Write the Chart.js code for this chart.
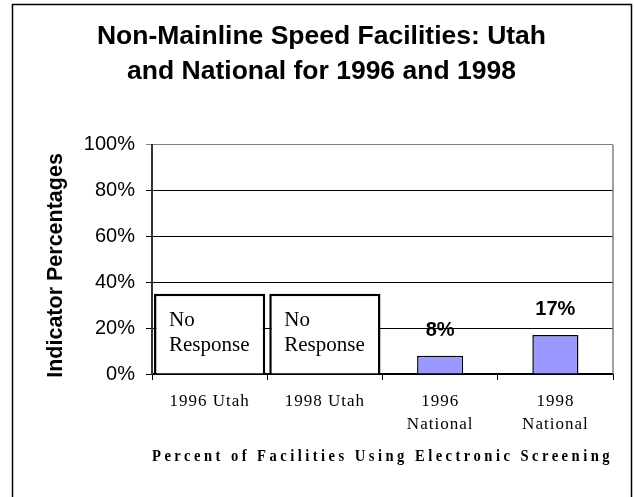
<!DOCTYPE html>
<html><head><meta charset="utf-8">
<script src="https://cdn.jsdelivr.net/npm/chart.js@4"></script>
<style>html,body{margin:0;padding:0;background:#fff}#wrap{width:634px;height:497px}</style>
</head><body><div id="wrap"><canvas id="c" width="634" height="497"></canvas></div>
<script>
const titleLines = ["Non-Mainline Speed Facilities: Utah", "and National for 1996 and 1998"];
const categories = [["1996 Utah"], ["1998 Utah"], ["1996", "National"], ["1998", "National"]];
const noResponseBoxes = [35, 35, null, null];
const nationalValues = [null, null, 8, 17];
const yTicks = [0, 20, 40, 60, 80, 100];
const noResponseText = ["No", "Response"];
const yAxisTitle = "Indicator Percentages  ";
const xAxisTitle = "Percent of Facilities Using Electronic Screening";

const framePlugin = {
  id: 'frame',
  beforeDraw(chart) {
    const ctx = chart.ctx;
    ctx.save();
    ctx.fillStyle = '#fff';
    ctx.fillRect(0, 0, chart.width, chart.height);
    ctx.strokeStyle = '#000';
    ctx.lineWidth = 1.5;
    ctx.strokeRect(12.5, 4.5, 619, 540);
    ctx.restore();
  },
  afterDraw(chart) {
    const ctx = chart.ctx, a = chart.chartArea;
    ctx.save();
    ctx.strokeStyle = '#808080';
    ctx.lineWidth = 1.5;
    ctx.beginPath();
    ctx.moveTo(a.right, a.top);
    ctx.lineTo(a.right, a.bottom);
    ctx.stroke();
    ctx.restore();
  }
};

const labelPlugin = {
  id: 'labels',
  afterDatasetsDraw(chart) {
    const ctx = chart.ctx;
    ctx.save();
    const m0 = chart.getDatasetMeta(0);
    ctx.font = '21px "Liberation Serif", serif';
    ctx.fillStyle = '#000';
    ctx.textAlign = 'left';
    ctx.textBaseline = 'middle';
    m0.data.forEach((el, i) => {
      if (noResponseBoxes[i] == null) return;
      const left = el.x - el.width / 2 + 15;
      noResponseText.forEach((t, j) => ctx.fillText(t, left, el.y + 27 + j * 25));
    });
    const m1 = chart.getDatasetMeta(1);
    ctx.font = 'bold 20px "Liberation Sans", Arial, sans-serif';
    ctx.textAlign = 'center';
    ctx.textBaseline = 'alphabetic';
    m1.data.forEach((el, i) => {
      const v = nationalValues[i];
      if (v == null) return;
      ctx.fillText(v + '%', el.x, el.y - 20);
    });
    ctx.restore();
  }
};

function patchSpacing(scale, labelSp, titleSp) {
  if (scale._spPatched) return;
  const dl = scale.drawLabels.bind(scale);
  const dt = scale.drawTitle.bind(scale);
  scale.drawLabels = function (a) {
    const c = this.ctx; const p = c.letterSpacing; c.letterSpacing = labelSp; dl(a); c.letterSpacing = p || '0px';
  };
  scale.drawTitle = function (a) {
    const c = this.ctx; const p = c.letterSpacing; c.letterSpacing = titleSp; dt(a); c.letterSpacing = p || '0px';
  };
  scale._spPatched = true;
}

new Chart(document.getElementById('c'), {
  type: 'bar',
  data: {
    labels: categories,
    datasets: [
      {
        label: 'No Response',
        data: noResponseBoxes,
        backgroundColor: '#ffffff',
        borderColor: '#000000',
        borderWidth: 2.5,
        barPercentage: 0.965,
        categoryPercentage: 1.0,
        grouped: false
      },
      {
        label: 'National',
        data: nationalValues,
        backgroundColor: '#9999FF',
        borderColor: '#000000',
        borderWidth: 1.5,
        barPercentage: 0.4,
        categoryPercentage: 1.0,
        grouped: false
      }
    ]
  },
  options: {
    responsive: false,
    devicePixelRatio: 1,
    animation: false,
    layout: { padding: { left: 30, right: 21, top: 0, bottom: 0 } },
    plugins: {
      legend: { display: false },
      tooltip: { enabled: false },
      title: {
        display: true,
        text: titleLines,
        color: '#000',
        font: { family: '"Liberation Sans", Arial, sans-serif', size: 26.5, weight: 'bold', lineHeight: 1.32 },
        padding: { top: 19, bottom: 56 }
      }
    },
    scales: {
      x: {
        offset: true,
        grid: { display: true, drawOnChartArea: false, drawTicks: true, tickLength: 6, color: '#000', offset: true },
        border: { display: true, color: '#000', width: 1.5 },
        ticks: {
          color: '#000',
          padding: 10,
          maxRotation: 0,
          autoSkip: false,
          font: { family: '"Liberation Serif", "Times New Roman", serif', size: 17, lineHeight: 1.35 }
        },
        title: {
          display: true,
          text: xAxisTitle,
          color: '#000',
          font: { family: '"Liberation Serif", "Times New Roman", serif', size: 16, weight: 'bold', lineHeight: 1.2 },
          padding: { top: 0, bottom: 31 }
        },
        afterFit(scale) { scale.height = 123; },
        afterUpdate(scale) { patchSpacing(scale, '1px', '3.8px'); }
      },
      y: {
        min: 0,
        max: 100,
        afterBuildTicks(scale) { scale.ticks = yTicks.map(v => ({ value: v })); },
        grid: {
          color: (c) => (c.tick && c.tick.value === 100 ? '#808080' : '#000'),
          lineWidth: 1,
          tickLength: 6,
          drawTicks: true
        },
        border: { display: true, color: '#333', width: 2 },
        ticks: {
          color: '#000',
          padding: 11,
          callback: (v) => v + '%',
          font: { family: '"Liberation Sans", Arial, sans-serif', size: 20 }
        },
        title: {
          display: true,
          text: yAxisTitle,
          color: '#000',
          font: { family: '"Liberation Sans", Arial, sans-serif', size: 21.5, weight: 'bold', lineHeight: 1.2 },
          padding: { top: 13, bottom: 0 }
        },
        afterFit(scale) { scale.width = 122; }
      }
    }
  },
  plugins: [framePlugin, labelPlugin]
});
</script>
</body></html>
